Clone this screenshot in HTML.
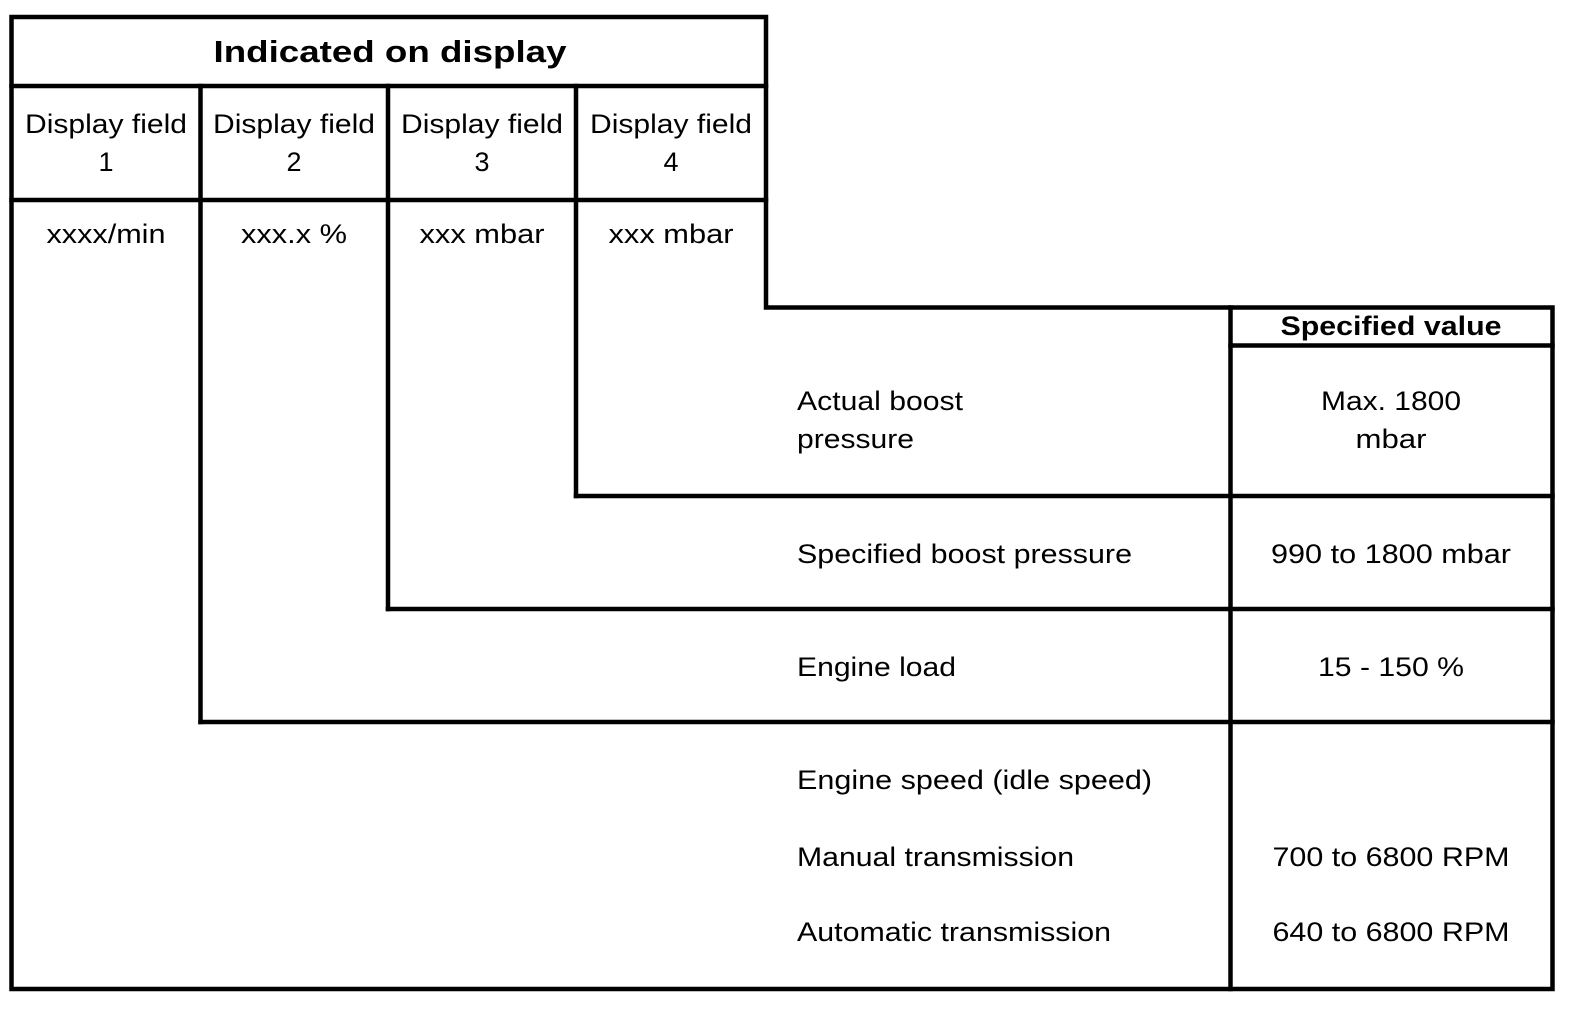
<!DOCTYPE html>
<html><head><meta charset="utf-8"><style>
html,body{margin:0;padding:0;background:#fff;}
svg{display:block;}
text{font-family:"Liberation Sans",Arial,sans-serif;font-size:27px;fill:#000;}
.b{font-weight:bold;}
.m{text-anchor:middle;}
</style></head><body>
<svg width="1584" height="1012" viewBox="0 0 1584 1012" xmlns="http://www.w3.org/2000/svg">
<g stroke="#000" stroke-width="4.5" fill="none" stroke-linecap="square">
<polyline points="11.5,17 766,17 766,307.5 1552.5,307.5 1552.5,989 11.5,989 11.5,17"/>
<line x1="11.5" y1="86" x2="766" y2="86"/>
<line x1="11.5" y1="200" x2="766" y2="200"/>
<line x1="200.5" y1="86" x2="200.5" y2="722"/>
<line x1="388" y1="86" x2="388" y2="609"/>
<line x1="576" y1="86" x2="576" y2="496"/>
<line x1="1230.5" y1="307.5" x2="1230.5" y2="989"/>
<line x1="1230.5" y1="345.5" x2="1552.5" y2="345.5"/>
<line x1="576" y1="496" x2="1552.5" y2="496"/>
<line x1="388" y1="609" x2="1552.5" y2="609"/>
<line x1="200.5" y1="722" x2="1552.5" y2="722"/>
</g>
<g lengthAdjust="spacingAndGlyphs">
<text class="b m" x="390" y="62" style="font-size:31px" textLength="353" lengthAdjust="spacingAndGlyphs">Indicated on display</text>
<text class="m" x="106" y="133" textLength="162" lengthAdjust="spacingAndGlyphs">Display field</text><text class="m" x="106" y="171">1</text>
<text class="m" x="294" y="133" textLength="162" lengthAdjust="spacingAndGlyphs">Display field</text><text class="m" x="294" y="171">2</text>
<text class="m" x="482" y="133" textLength="162" lengthAdjust="spacingAndGlyphs">Display field</text><text class="m" x="482" y="171">3</text>
<text class="m" x="671" y="133" textLength="162" lengthAdjust="spacingAndGlyphs">Display field</text><text class="m" x="671" y="171">4</text>
<text class="m" x="106" y="243" textLength="119" lengthAdjust="spacingAndGlyphs">xxxx/min</text>
<text class="m" x="294" y="243" textLength="106" lengthAdjust="spacingAndGlyphs">xxx.x %</text>
<text class="m" x="482" y="243" textLength="125" lengthAdjust="spacingAndGlyphs">xxx mbar</text>
<text class="m" x="671" y="243" textLength="125" lengthAdjust="spacingAndGlyphs">xxx mbar</text>
<text class="b m" x="1391" y="335" style="font-size:27px" textLength="221" lengthAdjust="spacingAndGlyphs">Specified value</text>
<text x="797" y="410" textLength="166" lengthAdjust="spacingAndGlyphs">Actual boost</text>
<text x="797" y="448" textLength="117" lengthAdjust="spacingAndGlyphs">pressure</text>
<text class="m" x="1391" y="410" textLength="140" lengthAdjust="spacingAndGlyphs">Max. 1800</text>
<text class="m" x="1391" y="448" textLength="71" lengthAdjust="spacingAndGlyphs">mbar</text>
<text x="797" y="563" textLength="335" lengthAdjust="spacingAndGlyphs">Specified boost pressure</text>
<text class="m" x="1391" y="563" textLength="240" lengthAdjust="spacingAndGlyphs">990 to 1800 mbar</text>
<text x="797" y="676" textLength="159" lengthAdjust="spacingAndGlyphs">Engine load</text>
<text class="m" x="1391" y="676" textLength="146" lengthAdjust="spacingAndGlyphs">15 - 150 %</text>
<text x="797" y="789" textLength="355" lengthAdjust="spacingAndGlyphs">Engine speed (idle speed)</text>
<text x="797" y="866" textLength="277" lengthAdjust="spacingAndGlyphs">Manual transmission</text>
<text class="m" x="1391" y="866" textLength="237" lengthAdjust="spacingAndGlyphs">700 to 6800 RPM</text>
<text x="797" y="941" textLength="314" lengthAdjust="spacingAndGlyphs">Automatic transmission</text>
<text class="m" x="1391" y="941" textLength="237" lengthAdjust="spacingAndGlyphs">640 to 6800 RPM</text>
</g>
</svg>
</body></html>
